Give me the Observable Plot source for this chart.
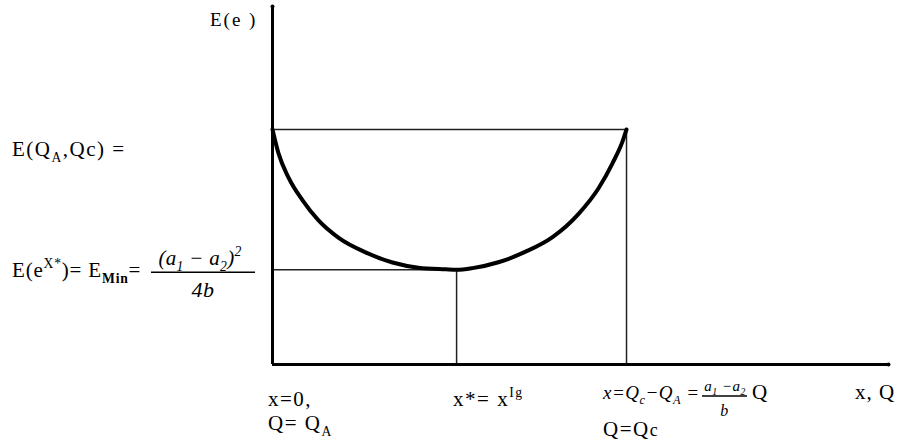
<!DOCTYPE html>
<html>
<head>
<meta charset="utf-8">
<script src="https://cdn.jsdelivr.net/npm/d3@7"></script>
<script src="https://cdn.jsdelivr.net/npm/@observablehq/plot@0.6"></script>
<style>
  html, body { margin: 0; padding: 0; background: #fff; }
  #chart svg { display: block; }
</style>
</head>
<body>
<div id="chart"></div>
<script>
// ---- data (abstract units: x = quantity, E = energy/cost) ----
const curveX = [0, 0.17, 0.45, 0.85, 1.30, 1.86, 2.63, 3.39, 4.12, 4.89, 5.20, 5.65, 6.38, 7.15, 7.91, 8.64, 9.21, 9.60, 9.89, 10];
const curveE = [10, 8.98, 7.96, 6.98, 6.13, 5.40, 4.77, 4.34, 4.12, 4.05, 4.03, 4.10, 4.35, 4.80, 5.42, 6.40, 7.50, 8.55, 9.50, 10];
const xQc = 10;       // x = Qc - QA
const eTop = 10;      // E(QA, Qc)
const xStar = 5.20;   // x* = x^Ig
const eMin = 4.03;    // E_Min
const xMax = 17.4;    // end of x axis
const eMax = 15.23;   // end of E axis

const curve = curveX.map((x, i) => ({x, e: curveE[i]}));

const plot = Plot.plot({
  width: 897,
  height: 443,
  marginLeft: 272,
  marginRight: 9,
  marginTop: 6,
  marginBottom: 79,
  x: {domain: [0, xMax], axis: null},
  y: {domain: [0, eMax], axis: null},
  style: {background: "#fff"},
  marks: [
    // thin guide lines
    Plot.ruleY([eTop], {x1: 0, x2: xQc, stroke: "#222", strokeWidth: 1.5}),
    Plot.ruleX([xQc], {y1: 0, y2: eTop, stroke: "#222", strokeWidth: 1.5}),
    Plot.ruleY([eMin], {x1: 0, x2: xStar, stroke: "#222", strokeWidth: 1.5}),
    Plot.ruleX([xStar], {y1: 0, y2: eMin, stroke: "#222", strokeWidth: 1.5}),
    // the curve
    Plot.line(curve, {x: "x", y: "e", curve: "monotone-x", stroke: "#000", strokeWidth: 4}),
    // axes
    Plot.ruleX([0], {y1: 0, y2: eMax, stroke: "#000", strokeWidth: 3}),
    Plot.ruleY([0], {x1: 0, x2: xMax, stroke: "#000", strokeWidth: 3}),
    Plot.dot([{x: 0, e: eMax}, {x: xMax, e: 0}], {x: "x", y: "e", r: 2, fill: "#000"})
  ]
});

document.getElementById("chart").appendChild(plot);

// ---- text labels (with sub/superscripts) ----
const sx = plot.scale("x").apply;
const sy = plot.scale("y").apply;
const svg = d3.select(plot);
const FONT = "'Liberation Serif', 'Times New Roman', serif";

function label(x, y, parts, opts = {}) {
  const size = opts.size || 21;
  const t = svg.append("text")
    .attr("x", x).attr("y", y)
    .attr("font-family", FONT)
    .attr("font-size", size)
    .attr("letter-spacing", opts.spacing != null ? opts.spacing : 1.5)
    .attr("font-style", opts.italic ? "italic" : null)
    .attr("text-anchor", opts.anchor || "start")
    .attr("fill", "#000");
  let shift = 0;
  for (const p of parts) {
    const [txt, kind, weight] = Array.isArray(p) ? p : [p, "n"];
    let target = 0, fs = size;
    if (kind === "sub") { target = size * 0.28; fs = size * 0.65; }
    if (kind === "sup") { target = -size * 0.42; fs = size * 0.65; }
    if (kind === "small") { target = 0; fs = size * 0.85; }
    const ts = t.append("tspan")
      .attr("dy", target - shift)
      .attr("font-size", fs)
      .text(txt);
    if (weight) ts.attr("font-weight", weight);
    shift = target;
  }
  return t;
}
function bar(x1, x2, y) {
  svg.append("line").attr("x1", x1).attr("x2", x2).attr("y1", y).attr("y2", y)
    .attr("stroke", "#000").attr("stroke-width", 1.3);
}

// vertical axis title
label(210, 26, ["E(e )"], {size: 19, spacing: 2});

// E(QA, QC) level
label(12, sy(eTop) + 27, ["E(Q", ["A", "sub"], ",Qc) ="]);

// minimum level
const yMinPx = sy(eMin);
label(12, yMinPx + 8, ["E(e", ["X*", "sup"], ")= E", ["Min", "sub", "bold"], "="], {spacing: 0.8});
label(200, yMinPx - 4, ["(a", ["1", "sub"], " − a", ["2", "sub"], ")", ["2", "sup"]], {size: 21, italic: true, anchor: "middle", spacing: 0.3});
bar(151, 255, yMinPx + 3);
label(203, yMinPx + 28, ["4b"], {size: 22, italic: true, anchor: "middle", spacing: 0.5});

// x axis labels
const yAx = sy(0);
label(sx(0) - 4, yAx + 42, ["x=0,"]);
label(sx(0) - 4, yAx + 66, ["Q= Q", ["A", "sub"]]);
label(sx(xStar) - 3, yAx + 42, ["x*= x", ["Ig", "sup"]]);

label(sx(xQc) - 23, yAx + 35, ["x=Q", ["c", "sub"], "−Q", ["A", "sub"], " ="], {size: 19, italic: true, spacing: 0.5});
label(725, yAx + 27, ["a", ["1", "sub"], " −a", ["2", "sub"]], {size: 15, italic: true, anchor: "middle", spacing: 0.5});
bar(702, 747, yAx + 32);
label(725, yAx + 52, ["b"], {size: 16, italic: true, anchor: "middle"});
label(752, yAx + 35, ["Q"]);
label(sx(xQc) - 23, yAx + 72, ["Q=Q", ["c", "small"]]);

label(855, yAx + 35, ["x, Q"], {spacing: 1});
</script>
</body>
</html>
